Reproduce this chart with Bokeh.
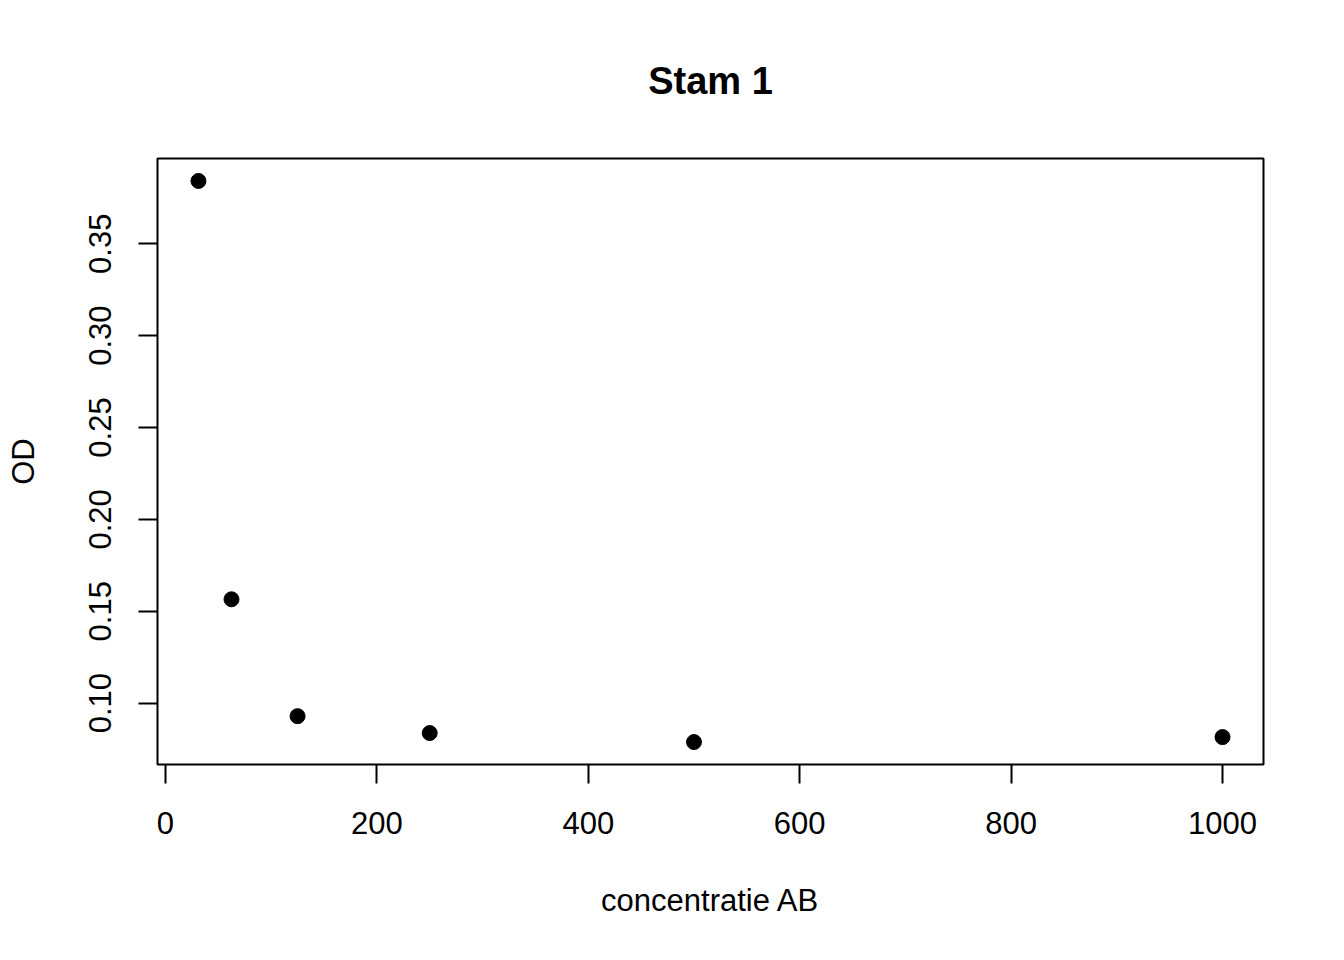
from bokeh.plotting import figure
from bokeh.models import Range1d, FixedTicker, PrintfTickFormatter
from bokeh.embed import file_html
from bokeh.resources import INLINE

concentration = [31.25, 62.5, 125, 250, 500, 1000]
od = [0.3842, 0.1565, 0.0929, 0.0837, 0.0788, 0.0815]
x_ticks = [0, 200, 400, 600, 800, 1000]
y_ticks = [0.10, 0.15, 0.20, 0.25, 0.30, 0.35]
title_text = "Stam 1"
x_label = "concentratie AB"
y_label = "OD"

def r_range(vals):
    lo, hi = min(vals), max(vals)
    d = (hi - lo) * 0.04
    return lo - d, hi + d

xr = r_range(concentration)
yr = r_range(od)

FONT = "Liberation Sans"

p = figure(width=1328, height=944, output_backend="svg", toolbar_location=None,
           x_range=Range1d(*xr), y_range=Range1d(*yr),
           min_border_left=157, min_border_right=65, min_border_top=157, min_border_bottom=180)

p.title.text = title_text
p.title.align = "center"
p.title.text_font = FONT
p.title.text_font_size = "38px"
p.title.text_font_style = "bold"
p.title.text_color = "black"
p.title.standoff = 114

p.outline_line_color = "black"
p.outline_line_width = 2
p.outline_line_alpha = 1
p.xgrid.visible = False
p.ygrid.visible = False
p.background_fill_color = "white"
p.border_fill_color = "white"

for ax in (p.xaxis[0], p.yaxis[0]):
    ax.axis_line_color = None
    ax.major_tick_line_color = "black"
    ax.major_tick_line_width = 2
    ax.major_tick_out = 19
    ax.major_tick_in = 0
    ax.minor_tick_line_color = None
    ax.major_label_text_font = FONT
    ax.major_label_text_font_size = "31px"
    ax.major_label_text_color = "black"
    ax.axis_label_text_font = FONT
    ax.axis_label_text_font_size = "31px"
    ax.axis_label_text_font_style = "normal"
    ax.axis_label_text_color = "black"

p.xaxis.ticker = FixedTicker(ticks=x_ticks)
p.yaxis.ticker = FixedTicker(ticks=y_ticks)
p.yaxis.formatter = PrintfTickFormatter(format="%.2f")
p.yaxis.major_label_orientation = "vertical"
p.xaxis.axis_label = x_label
p.yaxis.axis_label = y_label
p.xaxis.major_label_standoff = 28
p.yaxis.major_label_standoff = 27
p.xaxis.axis_label_standoff = 46
p.yaxis.axis_label_standoff = 46

p.scatter(concentration, od, size=15, color="black", marker="circle")

open("out.html", "w").write(file_html(p, INLINE))
